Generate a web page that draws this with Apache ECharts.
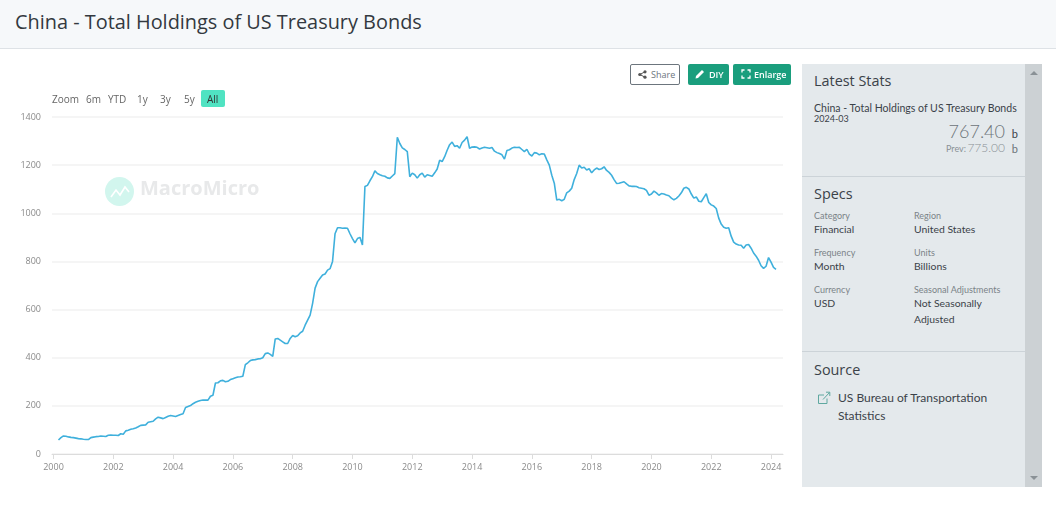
<!DOCTYPE html>
<html><head><meta charset="utf-8">
<script src="https://cdn.jsdelivr.net/npm/echarts@6/dist/echarts.min.js"></script>
<style>
html,body{margin:0;padding:0;background:#fff;overflow:hidden}
body{width:1056px;height:518px;position:relative;font-family:"Open Sans","Noto Sans",sans-serif;color:#3b4249}
#chart{position:absolute;left:0;top:0;width:1056px;height:518px}
.t{position:absolute;white-space:nowrap;line-height:1}
.s{font-family:Lato,"Open Sans",sans-serif}
.box{position:absolute;box-sizing:border-box}
.btn{position:absolute;box-sizing:border-box;top:64px;height:21px;border-radius:2px;background:#1a9e7d;color:#fff;font-size:9px;font-weight:600;line-height:21px}
.rng{position:absolute;top:93px;font-size:10px;color:#666;line-height:12px}
.lab{font-size:9px;color:#7b8388}
.val{font-size:10.400px;color:#3b4249}
</style></head><body>
<div id="chart"></div>
<div class="box" style="left:0;top:0;width:1056px;height:49px;background:#f6f8fa;border-bottom:1px solid #dee2e6"></div>
<div class="t" style="left:15px;top:12px;font-size:19.900px;color:#33393f">China - Total Holdings of US Treasury Bonds</div>

<div class="btn" style="left:630px;width:50px;background:#fff;border:1px solid #6c757d;color:#6c757d;font-weight:400;line-height:19px">
<svg style="position:absolute;left:7px;top:5px" width="9" height="9" viewBox="0 0 9 9"><circle cx="7" cy="1.8" r="1.6" fill="#555"/><circle cx="7" cy="7.2" r="1.6" fill="#555"/><circle cx="1.8" cy="4.5" r="1.6" fill="#555"/><path d="M7 1.8 1.8 4.5 7 7.2" stroke="#555" fill="none"/></svg>
<span style="position:absolute;left:20px">Share</span></div>
<div class="btn" style="left:688px;width:41px">
<svg style="position:absolute;left:7px;top:5px" width="10" height="10" viewBox="0 0 10 10"><path d="M0.5 9.5 1 7 7 1l2 2-6 6z" fill="#fff"/></svg>
<span style="position:absolute;left:21px">DIY</span></div>
<div class="btn" style="left:733px;width:58px">
<svg style="position:absolute;left:8px;top:5px" width="10" height="10" viewBox="0 0 10 10"><path d="M1 3.5V1h2.500M6.500 1H9v2.500M9 6.500V9H6.500M3.500 9H1V6.500" stroke="#fff" stroke-width="1.3" fill="none"/></svg>
<span style="position:absolute;left:21px">Enlarge</span></div>

<div class="rng" style="left:52px">Zoom</div>
<div class="rng" style="left:86px">6m</div>
<div class="rng" style="left:108px">YTD</div>
<div class="rng" style="left:137px">1y</div>
<div class="rng" style="left:160px">3y</div>
<div class="rng" style="left:184px">5y</div>
<div class="box" style="left:201px;top:90px;width:24px;height:17px;background:#50e3c2;border-radius:2px"></div>
<div class="rng" style="left:207px;color:#333">All</div>

<div class="box" style="left:802px;top:64px;width:223px;height:423px;background:#e4e9ec"></div>
<div class="box" style="left:1025px;top:64px;width:17px;height:423px;background:#ccd1d4"></div>
<svg style="position:absolute;left:1029px;top:70px" width="10" height="6"><path d="M1 5h8L5 1z" fill="#8a9196"/></svg>
<svg style="position:absolute;left:1029px;top:475px" width="10" height="6"><path d="M1 1h8L5 5z" fill="#8a9196"/></svg>
<div class="box" style="left:802px;top:176px;width:223px;height:1px;background:#ccd3d8"></div>
<div class="box" style="left:802px;top:351px;width:223px;height:1px;background:#ccd3d8"></div>

<div class="t" style="left:814px;top:74px;font-size:14.400px">Latest Stats</div>
<div class="t s" style="left:814px;top:103px;font-size:10.550px">China - Total Holdings of US Treasury Bonds</div>
<div class="t s" style="left:814px;top:114px;font-size:9px">2024-03</div>
<div class="t s" style="right:51px;top:122px;font-size:18px;color:#6d7479;font-weight:300">767.40</div>
<div class="t s" style="right:38px;top:128px;font-size:11px">b</div>
<div class="t s" style="right:90px;top:144px;font-size:9px;color:#8a9196">Prev:</div>
<div class="t s" style="right:51px;top:142px;font-size:12px;color:#8a9196;font-weight:300">775.00</div>
<div class="t s" style="right:38px;top:143px;font-size:11px;color:#6d7479">b</div>

<div class="t" style="left:814px;top:187px;font-size:14.400px">Specs</div>
<div class="t s lab" style="left:814px;top:211px">Category</div>
<div class="t s val" style="left:814px;top:224px">Financial</div>
<div class="t s lab" style="left:914px;top:211px">Region</div>
<div class="t s val" style="left:914px;top:224px">United States</div>
<div class="t s lab" style="left:814px;top:248px">Frequency</div>
<div class="t s val" style="left:814px;top:261px">Month</div>
<div class="t s lab" style="left:914px;top:248px">Units</div>
<div class="t s val" style="left:914px;top:261px">Billions</div>
<div class="t s lab" style="left:814px;top:285px">Currency</div>
<div class="t s val" style="left:814px;top:298px">USD</div>
<div class="t s lab" style="left:914px;top:285px">Seasonal Adjustments</div>
<div class="t s val" style="left:914px;top:298px">Not Seasonally</div>
<div class="t s val" style="left:914px;top:314px">Adjusted</div>

<div class="t" style="left:814px;top:363px;font-size:14.400px">Source</div>
<svg style="position:absolute;left:817px;top:391px" width="14" height="14" viewBox="0 0 14 14"><path d="M10 7.500V12.500H1.500V4H7M6 8.500 12.500 1.500M9 1.200h3.800V5" stroke="#5fa8a0" stroke-width="1" fill="none"/></svg>
<div class="t s" style="left:838px;top:392px;font-size:12px">US Bureau of Transportation</div>
<div class="t s" style="left:838px;top:410px;font-size:12px">Statistics</div>

<script>
const seriesStart = [2000, 2];
const yearTicks = [2000,2002,2004,2006,2008,2010,2012,2014,2016,2018,2020,2022,2024];
const yTickMax = 1400;
const yTickStep = 200;
const v2000 = [58,68,75,74,71,69,68,66,64,63];
const v2001 = [61,60,60,68,70,72,73,75,74,73,78,79];
const v2002 = [78,78,77,84,82,96,99,103,105,108,113,119];
const v2003 = [120,121,132,134,136,146,153,150,147,152,157,160];
const v2004 = [158,156,160,164,167,193,197,201,209,215,219,222];
const v2005 = [224,224,224,240,244,295,296,304,306,300,302,309];
const v2006 = [313,317,320,321,323,371,379,388,391,392,395,396];
const v2007 = [400,417,420,414,406,478,480,473,466,459,459,480];
const v2008 = [492,487,491,503,510,535,556,577,626,689,716,730];
const v2009 = [744,748,764,770,800,915,940,940,938,939,938,915];
const v2010 = [895,877,895,900,868,1111,1116,1135,1152,1176,1165,1160];
const v2011 = [1156,1154,1147,1145,1155,1165,1316,1290,1272,1265,1256,1152];
const v2012 = [1167,1160,1146,1160,1167,1150,1160,1157,1154,1168,1184,1220];
const v2013 = [1215,1235,1262,1285,1296,1278,1281,1270,1294,1304,1318,1270];
const v2014 = [1275,1276,1274,1267,1271,1274,1272,1270,1273,1258,1252,1248];
const v2015 = [1243,1225,1261,1264,1271,1274,1273,1274,1265,1256,1266,1246];
const v2016 = [1238,1252,1250,1243,1247,1246,1222,1200,1158,1125,1055,1058];
const v2017 = [1052,1058,1085,1092,1104,1140,1165,1200,1188,1191,1180,1185];
const v2018 = [1168,1180,1188,1182,1185,1193,1178,1170,1158,1140,1124,1125];
const v2019 = [1128,1131,1122,1114,1112,1112,1111,1106,1104,1102,1095,1075];
const v2020 = [1080,1092,1085,1075,1082,1080,1076,1073,1063,1056,1062,1072];
const v2021 = [1085,1104,1108,1101,1080,1063,1068,1050,1048,1065,1081,1045];
const v2022 = [1035,1030,1020,980,955,942,938,940,905,880,872,868];
const v2023 = [867,855,868,870,855,835,822,805,782,771,780,816];
const v2024 = [797,775,767.4];
const values = [].concat(v2000,v2001,v2002,v2003,v2004,v2005,v2006,v2007,v2008,v2009,v2010,v2011,v2012,v2013,v2014,v2015,v2016,v2017,v2018,v2019,v2020,v2021,v2022,v2023,v2024);

const data = values.map((v,i)=>[seriesStart[0] + (seriesStart[1]+i)/12, v]);
const chart = echarts.init(document.getElementById('chart'), null, {renderer:'canvas'});
chart.setOption({
  animation:false,
  textStyle:{fontFamily:'"Open Sans","Noto Sans",sans-serif'},
  grid:{left:52,top:117,width:731,height:337,containLabel:false},
  graphic:[
    {type:'circle',shape:{cx:119.500,cy:191.500,r:14.500},style:{fill:'#d2f6ee'},z:0},
    {type:'polyline',shape:{points:[[111,197],[116,190],[120,195],[125,187],[129,192]]},style:{stroke:'#fff',lineWidth:1.6,fill:'none'},z:0},
    {type:'text',x:140,y:179,style:{text:'MacroMicro',font:'700 20px "Open Sans",sans-serif',fill:'#e8e9ea'},z:0}
  ],
  xAxis:{
    type:'value',
    min:1999.95,
    max:2024.40,
    axisLine:{show:true,lineStyle:{color:'#dcdcdc',width:1}},
    axisTick:{show:true,length:5,lineStyle:{color:'#dcdcdc'},customValues:yearTicks},
    axisLabel:{fontSize:9,color:'#8a8a8a',margin:9,customValues:yearTicks,formatter:v=>String(v)},
    splitLine:{show:false}
  },
  yAxis:{
    type:'value',min:0,max:yTickMax,interval:yTickStep,
    axisLine:{show:false},axisTick:{show:false},
    axisLabel:{fontSize:9,color:'#8a8a8a',margin:11,formatter:v=>String(v)},
    splitLine:{show:true,lineStyle:{color:'#f2f2f2',width:1.500}}
  },
  series:[{type:'line',name:'China - Total Holdings of US Treasury Bonds',data:data,showSymbol:false,symbol:'none',
    lineStyle:{color:'#3fb0dc',width:1.600},z:5}]
});
</script>
</body></html>
